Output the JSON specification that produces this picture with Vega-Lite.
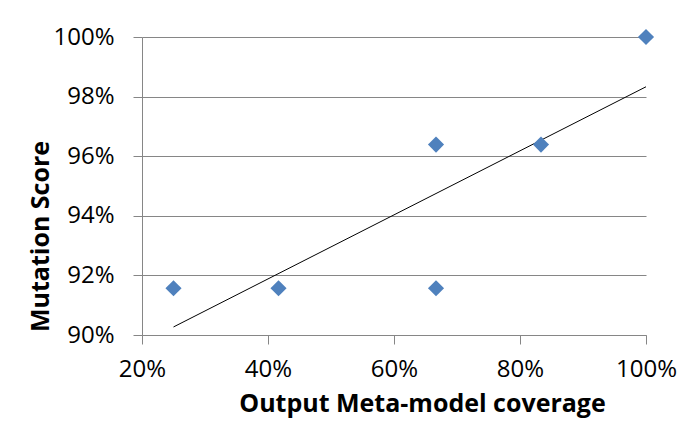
{
  "$schema": "https://vega.github.io/schema/vega-lite/v6.json",
  "width": 504,
  "height": 298,
  "autosize": "none",
  "padding": {"left": 142, "top": 37, "right": 37, "bottom": 90},
  "background": "white",
  "config": {"view": {"stroke": null}, "font": "Open Sans"},
  "encoding": {
    "x": {
      "field": "x", "type": "quantitative",
      "scale": {"domain": [0.2, 1], "nice": false, "zero": false},
      "axis": {
        "values": [0.2, 0.4, 0.6, 0.8, 1.0], "format": ".0%",
        "grid": false, "domainColor": "#868686", "tickColor": "#868686",
        "tickSize": 9, "labelPadding": 13, "labelFontSize": 24, "labelColor": "#000000",
        "labelFont": "Open Sans", "labelFlush": false,
        "title": "Output Meta-model coverage", "titleFont": "Open Sans",
        "titleFontSize": 25, "titleFontWeight": "bold", "titleColor": "#000000",
        "titleX": 280, "titleY": 76, "titleBaseline": "alphabetic", "titleAnchor": null
      }
    },
    "y": {
      "field": "y", "type": "quantitative",
      "scale": {"domain": [0.9, 1.0], "nice": false, "zero": false},
      "axis": {
        "values": [0.9, 0.92, 0.94, 0.96, 0.98, 1.0], "format": ".0%",
        "grid": true, "gridColor": "#868686", "gridWidth": 1,
        "domainColor": "#868686", "tickColor": "#868686",
        "tickSize": 9, "labelPadding": 19, "labelFontSize": 24, "labelColor": "#000000",
        "labelFont": "Open Sans", "labelFlush": false,
        "title": "Mutation Score", "titleFont": "Open Sans",
        "titleFontSize": 25, "titleFontWeight": "bold", "titleColor": "#000000",
        "titleX": -102, "titleY": 199, "titleAngle": -90, "titleBaseline": "middle", "titleAlign": "center"
      }
    }
  },
  "layer": [
    {
      "data": {"values": [
        {"x": 0.25, "y": 0.9027},
        {"x": 1.0, "y": 0.9833}
      ]},
      "mark": {"type": "line", "color": "#000000", "strokeWidth": 1}
    },
    {
      "data": {"values": [
        {"x": 0.25, "y": 0.9157},
        {"x": 0.4167, "y": 0.9157},
        {"x": 0.6667, "y": 0.9639},
        {"x": 0.6667, "y": 0.9157},
        {"x": 0.8333, "y": 0.9639},
        {"x": 1.0, "y": 1.0}
      ]},
      "mark": {"type": "point", "shape": "diamond", "filled": true, "size": 260, "color": "#4F81BD", "opacity": 1}
    }
  ]
}
